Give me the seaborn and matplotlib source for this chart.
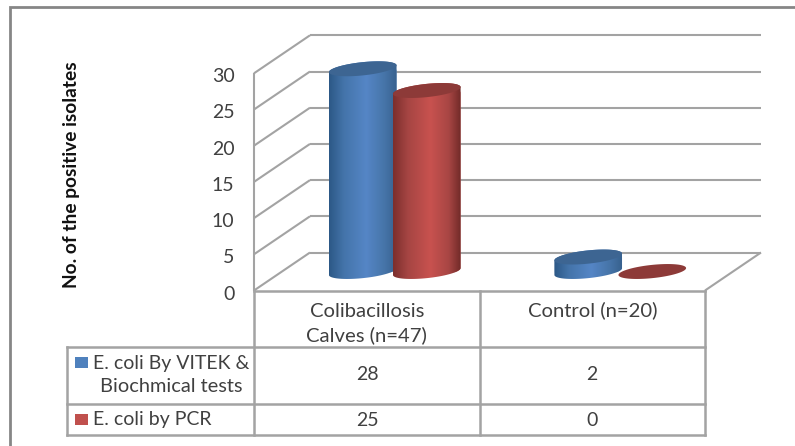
import numpy as np
import pandas as pd
import matplotlib
matplotlib.use('Agg')
import matplotlib.pyplot as plt
import seaborn as sns
from matplotlib.path import Path
from matplotlib.patches import PathPatch, Rectangle
from matplotlib.transforms import Affine2D

# Values
categories = ['Colibacillosis\nCalves (n=47)', 'Control (n=20)']
vitek_values = [28, 2]
pcr_values = [25, 0]
series_names = ['E. coli By VITEK &\nBiochmical tests', 'E. coli by PCR']
y_ticks = [0, 5, 10, 15, 20, 25, 30]

W, H = 795, 446
LINE = '#a3a3a3'
TEXT = '#404040'
FRAME = '#868686'
BLUE = '#4f81bd'
RED = '#c0504d'

sns.set_theme(style='white')
plt.rcParams['font.family'] = ['Lato', 'DejaVu Sans']

df = pd.DataFrame({
    'category': categories * 2,
    'value': vitek_values + pcr_values,
    'series': [series_names[0]] * 2 + [series_names[1]] * 2,
})

fig = plt.figure(figsize=(W / 100, H / 100), dpi=100, facecolor='white')

# overlay in pixels for the walls and the data table
px = fig.add_axes([0, 0, 1, 1], zorder=0)
px.set_xlim(0, W)
px.set_ylim(H, 0)
px.axis('off')

# plot area is the front plane of the 3D box
left, right, y0, y30 = 254, 705, 290.5, 73.3
ax = fig.add_axes([left / W, 1 - y0 / H, (right - left) / W, (y0 - y30) / H], zorder=1)
ax.patch.set_visible(False)

sns.barplot(data=df, x='category', y='value', hue='series', palette=[BLUE, RED],
            width=0.568, saturation=1, legend=False, ax=ax)
ax.set_xlim(-0.5, 1.5)
ax.set_ylim(0, 30)
ax.set_xlabel('')
ax.set_ylabel('')
ax.set_yticks(y_ticks)
ax.tick_params(axis='y', length=0, pad=14, labelsize=14, labelcolor=TEXT)
ax.tick_params(axis='x', length=0, pad=9, labelsize=14.6, labelcolor=TEXT)
for t in ax.get_xticklabels():
    t.set_linespacing(1.42)
ctrl = ax.get_xticklabels()[1]
ctrl.set_transform(ctrl.get_transform() + Affine2D().translate(0, 2))
for t in ax.get_yticklabels():
    t.set_transform(t.get_transform() + Affine2D().translate(0, -2))
sns.despine(ax=ax, left=True, bottom=True)

# walls and floor
dx, dy = 56, 38
ppu = (y0 - y30) / 30
kw = dict(color=LINE, lw=1.5, solid_capstyle='butt')
for v in y_ticks:
    y = y0 - v * ppu
    px.plot([left, left + dx], [y, y - dy], **kw)
    px.plot([left + dx, right + dx], [y - dy, y - dy], **kw)
px.plot([left, left], [y30, y0], **kw)
px.plot([right, right + dx], [y0, y0 - dy], **kw)

# cylinders, pushed to the middle of the depth
shift = ax.transData + Affine2D().translate(28, 19)
xu = 2 / (right - left)
yu = 30 / (y0 - y30)
bar_w = 68 * xu
phi = np.radians(6)
a, b = 34, 6.6
t0 = np.arctan(-(b / a) * np.tan(phi))


def ring(xc, yc, t):
    ex = a * np.cos(t) * np.cos(phi) - b * np.sin(t) * np.sin(phi)
    ey = a * np.cos(t) * np.sin(phi) + b * np.sin(t) * np.cos(phi)
    return np.column_stack([xc + ex * xu, yc + ey * yu])


def shade(c0, c1, c2, c3, c4):
    c = [matplotlib.colors.to_rgb(k) for k in (c0, c1, c2, c3, c4)]
    s = np.linspace(0, 1, 200)
    stops = [0, 0.22, 0.55, 0.82, 1]
    return np.array([np.interp(s, stops, [k[i] for k in c]) for i in range(3)]).T[None, :, :]


looks = [(shade('#2c5886', '#4474aa', '#5586c6', '#4674a8', '#38628f'), '#3d6592'),
         (shade('#7c2f2d', '#a64543', '#c8524f', '#a84644', '#712a28'), '#8d3a38')]

for container, (grad, cap) in zip(ax.containers, looks):
    for bar in container:
        xc = bar.get_x() + bar.get_width() / 2
        h = bar.get_height()
        z = 3 if h > 0 else 2
        bar.set_width(bar_w)
        bar.set_x(xc - bar_w / 2)
        bar.set_transform(shift)
        bar.set_zorder(z)
        if h > 0:
            lower = ring(xc, 0, np.linspace(np.pi + t0, 2 * np.pi + t0, 60))
            upper = ring(xc, h, np.linspace(t0, np.pi + t0, 60))
            outline = np.vstack([lower, upper, lower[:1]])
            # the plain bar stays underneath, trimmed to the gradient's outline
            bar.set_clip_box(fig.bbox)
            bar.set_clip_path(Path(outline), shift)
            im = ax.imshow(grad, aspect='auto', zorder=z, transform=shift,
                           extent=(xc - bar_w / 2, xc + bar_w / 2, -2, h + 2))
            im.set_clip_box(fig.bbox)
            im.set_clip_path(Path(outline), shift)
        top = ring(xc, h, np.linspace(0, 2 * np.pi, 120))
        ax.add_patch(PathPatch(Path(top), facecolor=cap, edgecolor='none', zorder=z,
                               transform=shift, clip_on=False))
ax.set_xlim(-0.5, 1.5)
ax.set_ylim(0, 30)

# data table
table_kw = dict(color=LINE, lw=1.8, solid_capstyle='projecting')
for y, x0 in [(y0, left), (347, 67), (403.5, 67), (435, 67)]:
    px.plot([x0, right], [y, y], **table_kw)
for x, y1 in [(67, 347), (left, y0), (480, y0), (right, y0)]:
    px.plot([x, x], [y1, 435], **table_kw)

row_y = [375, 420]
col_x = [367, 592]
for row, yy in zip([vitek_values, pcr_values], row_y):
    for val, xx in zip(row, col_x):
        px.text(xx, yy, str(val), ha='center', va='center', fontsize=14, color=TEXT)

for colour, y in [(BLUE, 356.5), (RED, 413.5)]:
    px.add_patch(Rectangle((75, y), 12.5, 11, facecolor=colour, edgecolor='none'))
first, second = series_names[0].split('\n')
px.text(93, 363, first, ha='left', va='center', fontsize=14, color=TEXT)
px.text(171, 387, second, ha='center', va='center', fontsize=14.4, color=TEXT)
px.text(93, 420, series_names[1], ha='left', va='center', fontsize=14, color=TEXT)

px.text(71, 174.5, 'No. of the positive isolates', rotation=90, ha='center', va='center',
        fontsize=13.8, fontweight='bold', color='#111111')

# chart frame runs off the picture
px.plot([10, 10, W], [H, 7, 7], color=FRAME, lw=2, solid_joinstyle='miter')

fig.savefig('out.png', dpi=100)
